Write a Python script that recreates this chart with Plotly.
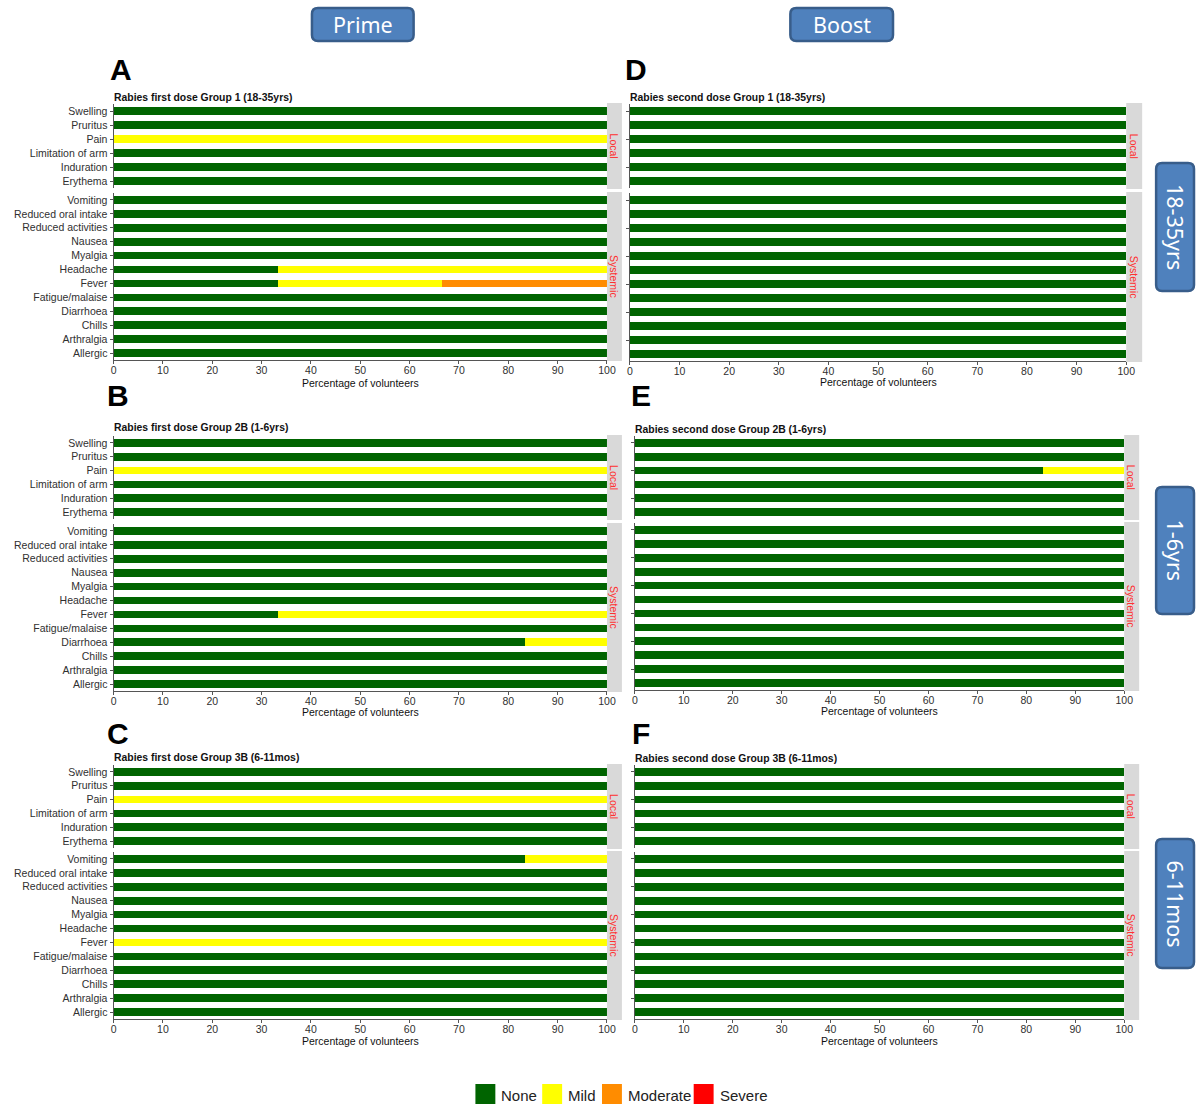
import plotly.graph_objects as go

W, H = 1203, 1104
XS = 1195  # horizontal pixel scale used to place elements

# ---------------- data ----------------
severity_levels = ["None", "Mild", "Moderate", "Severe"]
severity_colors = ["#006400", "#FFFF00", "#FF8C00", "#FF0000"]

local_symptoms = ["Swelling", "Pruritus", "Pain", "Limitation of arm", "Induration", "Erythema"]
systemic_symptoms = ["Vomiting", "Reduced oral intake", "Reduced activities", "Nausea", "Myalgia",
                     "Headache", "Fever", "Fatigue/malaise", "Diarrhoea", "Chills", "Arthralgia", "Allergic"]

panel_letters = ["A", "D", "B", "E", "C", "F"]
panel_titles = ["Rabies first dose Group 1 (18-35yrs)", "Rabies second dose Group 1 (18-35yrs)",
                "Rabies first dose Group 2B (1-6yrs)", "Rabies second dose Group 2B (1-6yrs)",
                "Rabies first dose Group 3B (6-11mos)", "Rabies second dose Group 3B (6-11mos)"]
x_ticks = [0, 10, 20, 30, 40, 50, 60, 70, 80, 90, 100]
x_title = "Percentage of volunteers"
facet_labels = ["Local", "Systemic"]
col_headers = ["Prime", "Boost"]
row_headers = ["18-35yrs", "1-6yrs", "6-11mos"]

# rows: None, Mild, Moderate, Severe
A_local = [[100, 100, 0, 100, 100, 100],
           [0, 0, 100, 0, 0, 0],
           [0, 0, 0, 0, 0, 0],
           [0, 0, 0, 0, 0, 0]]
A_systemic = [[100, 100, 100, 100, 100, 33.3, 33.3, 100, 100, 100, 100, 100],
              [0, 0, 0, 0, 0, 66.7, 33.3, 0, 0, 0, 0, 0],
              [0, 0, 0, 0, 0, 0, 33.4, 0, 0, 0, 0, 0],
              [0, 0, 0, 0, 0, 0, 0, 0, 0, 0, 0, 0]]
D_local = [[100, 100, 100, 100, 100, 100],
           [0, 0, 0, 0, 0, 0],
           [0, 0, 0, 0, 0, 0],
           [0, 0, 0, 0, 0, 0]]
D_systemic = [[100, 100, 100, 100, 100, 100, 100, 100, 100, 100, 100, 100],
              [0, 0, 0, 0, 0, 0, 0, 0, 0, 0, 0, 0],
              [0, 0, 0, 0, 0, 0, 0, 0, 0, 0, 0, 0],
              [0, 0, 0, 0, 0, 0, 0, 0, 0, 0, 0, 0]]
B_local = [[100, 100, 0, 100, 100, 100],
           [0, 0, 100, 0, 0, 0],
           [0, 0, 0, 0, 0, 0],
           [0, 0, 0, 0, 0, 0]]
B_systemic = [[100, 100, 100, 100, 100, 100, 33.3, 100, 83.3, 100, 100, 100],
              [0, 0, 0, 0, 0, 0, 66.7, 0, 16.7, 0, 0, 0],
              [0, 0, 0, 0, 0, 0, 0, 0, 0, 0, 0, 0],
              [0, 0, 0, 0, 0, 0, 0, 0, 0, 0, 0, 0]]
E_local = [[100, 100, 83.3, 100, 100, 100],
           [0, 0, 16.7, 0, 0, 0],
           [0, 0, 0, 0, 0, 0],
           [0, 0, 0, 0, 0, 0]]
E_systemic = [[100, 100, 100, 100, 100, 100, 100, 100, 100, 100, 100, 100],
              [0, 0, 0, 0, 0, 0, 0, 0, 0, 0, 0, 0],
              [0, 0, 0, 0, 0, 0, 0, 0, 0, 0, 0, 0],
              [0, 0, 0, 0, 0, 0, 0, 0, 0, 0, 0, 0]]
C_local = [[100, 100, 0, 100, 100, 100],
           [0, 0, 100, 0, 0, 0],
           [0, 0, 0, 0, 0, 0],
           [0, 0, 0, 0, 0, 0]]
C_systemic = [[83.3, 100, 100, 100, 100, 100, 0, 100, 100, 100, 100, 100],
              [16.7, 0, 0, 0, 0, 0, 100, 0, 0, 0, 0, 0],
              [0, 0, 0, 0, 0, 0, 0, 0, 0, 0, 0, 0],
              [0, 0, 0, 0, 0, 0, 0, 0, 0, 0, 0, 0]]
F_local = [[100, 100, 100, 100, 100, 100],
           [0, 0, 0, 0, 0, 0],
           [0, 0, 0, 0, 0, 0],
           [0, 0, 0, 0, 0, 0]]
F_systemic = [[100, 100, 100, 100, 100, 100, 100, 100, 100, 100, 100, 100],
              [0, 0, 0, 0, 0, 0, 0, 0, 0, 0, 0, 0],
              [0, 0, 0, 0, 0, 0, 0, 0, 0, 0, 0, 0],
              [0, 0, 0, 0, 0, 0, 0, 0, 0, 0, 0, 0]]

panel_data = [(A_local, A_systemic), (D_local, D_systemic), (B_local, B_systemic),
              (E_local, E_systemic), (C_local, C_systemic), (F_local, F_systemic)]

# ---------------- layout geometry (pixels) ----------------
geom = [
    dict(x0=111, x1=606, s1=621, loc=(104, 188), sys=(193, 360), ty=97, xt=383, lx=119, ly=70, lab=True),
    dict(x0=629, x1=1127, s1=1143, loc=(104, 188), sys=(193, 361), ty=97, xt=382, lx=636, ly=70, lab=False),
    dict(x0=111, x1=606, s1=621, loc=(436, 519), sys=(524, 691), ty=428, xt=712, lx=116, ly=395, lab=True),
    dict(x0=634, x1=1125, s1=1140, loc=(436, 519), sys=(523, 690), ty=429, xt=711, lx=641, ly=395, lab=False),
    dict(x0=111, x1=606, s1=621, loc=(765, 848), sys=(852, 1019), ty=757, xt=1041, lx=116, ly=733, lab=True),
    dict(x0=634, x1=1125, s1=1140, loc=(765, 848), sys=(852, 1019), ty=758, xt=1041, lx=641, ly=733, lab=False),
]

def fx(px):
    return px / XS

def fy(py):
    return 1 - py / H

FONT = "Liberation Sans, Arial, sans-serif"
TXT = "#303030"
AXC = "#555555"

fig = go.Figure()
layout = {}
shapes = []
annotations = []

k = 0
for p, (g, data) in enumerate(zip(geom, panel_data)):
    for f, (cats, vals, (ytop, ybot)) in enumerate([(local_symptoms, data[0], g["loc"]),
                                                     (systemic_symptoms, data[1], g["sys"])]):
        k += 1
        xa = "x" if k == 1 else f"x{k}"
        ya = "y" if k == 1 else f"y{k}"
        for s, (lev, col) in enumerate(zip(severity_levels, severity_colors)):
            fig.add_trace(go.Bar(
                x=vals[s], y=cats, orientation="h", name=lev,
                marker=dict(color=col, line=dict(width=0)),
                xaxis=xa, yaxis=ya, showlegend=False,
                hovertemplate="%{y}: %{x}%<extra>" + lev + "</extra>",
            ))
        bottom = (f == 1)
        layout["xaxis" if k == 1 else f"xaxis{k}"] = dict(
            domain=[fx(g["x0"]), fx(g["x1"])], anchor=ya, range=[0, 100],
            tickvals=x_ticks, showticklabels=bottom, ticks="outside" if bottom else "",
            ticklen=3, tickcolor=AXC, showline=bottom, linecolor=AXC, linewidth=1.2,
            showgrid=False, zeroline=False, fixedrange=True, ticklabelstandoff=-3,
            tickfont=dict(family=FONT, size=10.5, color=TXT),
        )
        layout["yaxis" if k == 1 else f"yaxis{k}"] = dict(
            domain=[fy(ybot), fy(ytop)], anchor=xa, type="category",
            categoryorder="array", categoryarray=cats,
            range=[len(cats) - 0.5, -0.5],
            showticklabels=g["lab"], ticks="outside", ticklen=3, tickcolor=AXC,
            showline=True, linecolor=AXC, linewidth=1.2, showgrid=False, zeroline=False,
            fixedrange=True, tickfont=dict(family=FONT, size=10.5, color=TXT),
        )
        # facet strip
        shapes.append(dict(type="rect", xref="paper", yref="paper",
                           x0=fx(g["x1"]), x1=fx(g["s1"]), y0=fy(ybot + 1), y1=fy(ytop - 1),
                           fillcolor="#D9D9D9", line=dict(width=0), layer="below"))
        annotations.append(dict(xref="paper", yref="paper", x=fx((g["x1"] + g["s1"]) / 2),
                                y=fy((ytop + ybot) / 2), text=facet_labels[f], textangle=90,
                                showarrow=False, xanchor="center", yanchor="middle",
                                font=dict(family=FONT, size=10.5, color="#FF3030")))
    # panel title
    annotations.append(dict(xref="paper", yref="paper", x=fx(g["x0"] - 2), y=fy(g["ty"]),
                            text="<b>" + panel_titles[p] + "</b>", showarrow=False,
                            xanchor="left", yanchor="middle",
                            font=dict(family=FONT, size=10.4, color="#111111")))
    # x title
    annotations.append(dict(xref="paper", yref="paper", x=fx((g["x0"] + g["x1"]) / 2), y=fy(g["xt"]),
                            text=x_title, showarrow=False, xanchor="center", yanchor="middle",
                            font=dict(family=FONT, size=10.5, color="#111111")))
    # panel letter
    annotations.append(dict(xref="paper", yref="paper", x=fx(g["lx"] - 1), y=fy(g["ly"]),
                            text="<b>" + panel_letters[p] + "</b>", showarrow=False,
                            xanchor="center", yanchor="middle",
                            font=dict(family=FONT, size=30, color="#000000")))


def rrect(x0, y0, x1, y1, r):
    def P(x, y):
        return f"{fx(x):.5f},{fy(y):.5f}"
    path = (f"M {P(x0 + r, y0)} L {P(x1 - r, y0)} Q {P(x1, y0)} {P(x1, y0 + r)} "
            f"L {P(x1, y1 - r)} Q {P(x1, y1)} {P(x1 - r, y1)} L {P(x0 + r, y1)} "
            f"Q {P(x0, y1)} {P(x0, y1 - r)} L {P(x0, y0 + r)} Q {P(x0, y0)} {P(x0 + r, y0)} Z")
    return dict(type="path", xref="paper", yref="paper", path=path,
                fillcolor="#4F81BD", line=dict(color="#385D8A", width=2.5))

BOXFONT = "Noto Sans, Open Sans, sans-serif"
col_boxes = [(310, 8, 412, 41), (790, 8, 893, 41)]
for (bx0, by0, bx1, by1), txt in zip(col_boxes, col_headers):
    shapes.append(rrect(bx0, by0, bx1, by1, 6))
    annotations.append(dict(xref="paper", yref="paper", x=fx((bx0 + bx1) / 2), y=fy((by0 + by1) / 2),
                            text=txt, showarrow=False, xanchor="center", yanchor="middle",
                            font=dict(family=BOXFONT, size=21.5, color="white")))
row_boxes = [(1157, 163, 1195, 291), (1157, 487, 1195, 614), (1157, 839, 1195, 968)]
for (bx0, by0, bx1, by1), txt in zip(row_boxes, row_headers):
    shapes.append(rrect(bx0, by0, bx1, by1, 6))
    annotations.append(dict(xref="paper", yref="paper", x=fx((bx0 + bx1) / 2), y=fy((by0 + by1) / 2),
                            text=txt, textangle=90, showarrow=False, xanchor="center", yanchor="middle",
                            font=dict(family=BOXFONT, size=21.5, color="white")))

# legend (manual, large keys)
legend_key_x = [474, 541, 601, 693]
for lx, lev, col in zip(legend_key_x, severity_levels, severity_colors):
    shapes.append(dict(type="rect", xref="paper", yref="paper", x0=fx(lx), x1=fx(lx + 20),
                       y0=fy(1104), y1=fy(1084), fillcolor=col, line=dict(width=0)))
    annotations.append(dict(xref="paper", yref="paper", x=fx(lx + 24), y=fy(1095), text=lev,
                            showarrow=False, xanchor="left", yanchor="middle",
                            font=dict(family=FONT, size=15, color="#222222")))

fig.update_layout(
    width=W, height=H, margin=dict(l=0, r=0, t=0, b=0),
    paper_bgcolor="white", plot_bgcolor="white",
    barmode="stack", bargap=0.45, showlegend=False,
    shapes=shapes, annotations=annotations, font=dict(family=FONT),
    **layout,
)

fig.write_html("out.html", config={"displayModeBar": False},
               post_script="document.body.style.margin='0px';document.body.style.overflow='hidden';"
                           "document.documentElement.style.overflow='hidden';")
